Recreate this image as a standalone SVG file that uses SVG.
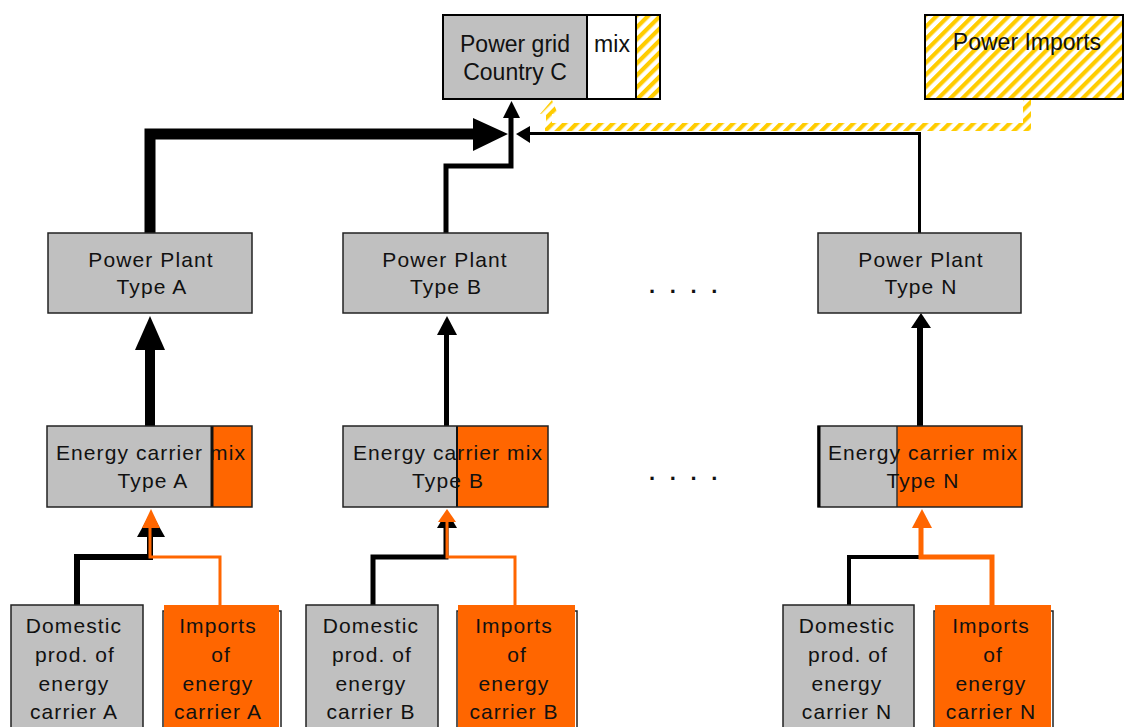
<svg xmlns="http://www.w3.org/2000/svg" width="1124" height="727" viewBox="0 0 1124 727">
<defs>
<pattern id="hatch" patternUnits="userSpaceOnUse" width="8.5" height="8.5" patternTransform="rotate(45)">
<rect width="8.5" height="8.5" fill="#FFFFFF"/>
<rect width="4.2" height="8.5" fill="#FFCC00"/>
</pattern>
<style>
.t{font-family:"Liberation Sans",Arial,sans-serif;font-size:21px;letter-spacing:1.1px;fill:#111;text-anchor:middle}
.tb{font-family:"Liberation Sans",Arial,sans-serif;font-size:23px;fill:#111;text-anchor:middle}
.dots{font-family:"Liberation Sans",Arial,sans-serif;font-size:22px;font-weight:bold;letter-spacing:14.6px;fill:#111}
.gray{fill:#C0C0C0;stroke:#222;stroke-width:1.5}
.org{fill:#FF6600}
.bl{fill:none;stroke:#000}
.ol{fill:none;stroke:#FF6600}
</style>
</defs>
<rect width="1124" height="727" fill="#FFFFFF"/>

<g id="connectors">
<rect x="545" y="123" width="486" height="8" fill="url(#hatch)"/>
<rect x="1023" y="99" width="8" height="32" fill="url(#hatch)"/>
<polygon points="546,123 546,114 540,114 552,100 558,114 552,114 552,123" fill="url(#hatch)"/>
<path class="bl" d="M150,233 V134 H475" stroke-width="11"/>
<polygon points="473,118 473,151 508,134" fill="#000"/>
<path class="bl" d="M446,233 V166 H511 V116" stroke-width="5"/>
<polygon points="503,118 520,118 511.5,101" fill="#000"/>
<path class="bl" d="M919.5,233 V133.5 H529" stroke-width="3"/>
<polygon points="530,126 530,143 516,134" fill="#000"/>
<path class="bl" d="M150,426 V345" stroke-width="10"/>
<polygon points="135,350 165,350 150,316" fill="#000"/>
<path class="bl" d="M446.5,426 V332" stroke-width="5"/>
<polygon points="437,335 457,335 447,316" fill="#000"/>
<path class="bl" d="M920,426 V325" stroke-width="6"/>
<polygon points="911,328 931,328 921,313" fill="#000"/>
<path class="bl" d="M77,605 V557 H150 V535" stroke-width="6"/>
<polygon points="137,537 165,537 151,512" fill="#000"/>
<path class="ol" d="M220,606 V557 H150 V526" stroke-width="3"/>
<polygon points="142,528 160,528 151,509" class="org"/>
<path class="bl" d="M373,605 V557 H446 V526" stroke-width="5"/>
<polygon points="437,528 457,528 447,511" fill="#000"/>
<path class="ol" d="M515,606 V557 H447 V520" stroke-width="3"/>
<polygon points="438,522 456,522 447,509" class="org"/>
<path class="bl" d="M849,605 V557 H920" stroke-width="4"/>
<path class="ol" d="M992,606 V557 H921 V526" stroke-width="5"/>
<polygon points="912,528 932,528 922,509" class="org"/>
</g>

<g id="power-grid">
<rect x="443" y="15" width="144" height="84" fill="#C0C0C0"/>
<rect x="587" y="15" width="49" height="84" fill="#FFFFFF"/>
<rect x="636" y="15" width="24" height="84" fill="url(#hatch)"/>
<path d="M587,15 V99 M636,15 V99" stroke="#000" stroke-width="2"/>
<rect x="443" y="15" width="217" height="84" fill="none" stroke="#000" stroke-width="2"/>
<text class="tb" x="515" y="52">Power grid</text>
<text class="tb" x="515" y="80">Country C</text>
<text class="tb" x="612" y="52">mix</text>
</g>

<g id="power-imports">
<rect x="925" y="15" width="198" height="84" fill="url(#hatch)" stroke="#000" stroke-width="2"/>
<text class="tb" x="1027" y="50">Power Imports</text>
</g>

<g id="pp-a">
<rect class="gray" x="48" y="233" width="204" height="80"/>
<text class="t" x="151" y="267">Power Plant</text>
<text class="t" x="152" y="294">Type A</text>
</g>
<g id="pp-b">
<rect class="gray" x="343" y="233" width="205" height="80"/>
<text class="t" x="445" y="267">Power Plant</text>
<text class="t" x="446" y="294">Type B</text>
</g>
<g id="pp-n">
<rect class="gray" x="818" y="233" width="203" height="80"/>
<text class="t" x="921" y="267">Power Plant</text>
<text class="t" x="921" y="294">Type N</text>
</g>

<g id="dots">
<text class="dots" x="649" y="293">....</text>
<text class="dots" x="649" y="480">....</text>
</g>

<g id="ec-a">
<rect x="47" y="426" width="165" height="81" fill="#C0C0C0"/>
<rect x="212" y="426" width="40" height="81" class="org"/>
<path d="M212,426 V507" stroke="#111" stroke-width="3"/>
<rect x="47" y="426" width="205" height="81" fill="none" stroke="#222" stroke-width="1.5"/>
<text class="t" x="151" y="460">Energy carrier mix</text>
<text class="t" x="153" y="488">Type A</text>
</g>
<g id="ec-b">
<rect x="343" y="426" width="114" height="81" fill="#C0C0C0"/>
<rect x="457" y="426" width="91" height="81" class="org"/>
<path d="M457,426 V507" stroke="#111" stroke-width="2"/>
<rect x="343" y="426" width="205" height="81" fill="none" stroke="#222" stroke-width="1.5"/>
<text class="t" x="448" y="460">Energy carrier mix</text>
<text class="t" x="448" y="488">Type B</text>
</g>
<g id="ec-n">
<rect x="818" y="426" width="79" height="81" fill="#C0C0C0"/>
<rect x="897" y="426" width="125" height="81" class="org"/>
<path d="M897,426 V507" stroke="#333" stroke-width="1.5"/>
<rect x="818" y="426" width="204" height="81" fill="none" stroke="#222" stroke-width="1.5"/>
<path d="M819,426 V507" stroke="#000" stroke-width="3"/>
<text class="t" x="923" y="460">Energy carrier mix</text>
<text class="t" x="923" y="488">Type N</text>
</g>

<g id="dom-a">
<rect class="gray" x="11" y="605" width="132" height="130"/>
<text class="t" x="74" y="633">Domestic</text>
<text class="t" x="75" y="662">prod. of</text>
<text class="t" x="74" y="691">energy</text>
<text class="t" x="74" y="719">carrier A</text>
</g>
<g id="imp-a">
<rect x="163" y="611" width="118" height="130" fill="none" stroke="#222" stroke-width="1.5"/>
<rect x="164" y="605" width="115" height="130" class="org"/>
<text class="t" x="218" y="633">Imports</text>
<text class="t" x="221" y="662">of</text>
<text class="t" x="218" y="691">energy</text>
<text class="t" x="218" y="719">carrier A</text>
</g>
<g id="dom-b">
<rect class="gray" x="306" y="605" width="132" height="130"/>
<text class="t" x="371" y="633">Domestic</text>
<text class="t" x="372" y="662">prod. of</text>
<text class="t" x="371" y="691">energy</text>
<text class="t" x="371" y="719">carrier B</text>
</g>
<g id="imp-b">
<rect x="457" y="611" width="120" height="130" fill="none" stroke="#222" stroke-width="1.5"/>
<rect x="458" y="605" width="117" height="130" class="org"/>
<text class="t" x="514" y="633">Imports</text>
<text class="t" x="517" y="662">of</text>
<text class="t" x="514" y="691">energy</text>
<text class="t" x="514" y="719">carrier B</text>
</g>
<g id="dom-n">
<rect class="gray" x="783" y="605" width="131" height="130"/>
<text class="t" x="847" y="633">Domestic</text>
<text class="t" x="848" y="662">prod. of</text>
<text class="t" x="847" y="691">energy</text>
<text class="t" x="847" y="719">carrier N</text>
</g>
<g id="imp-n">
<rect x="934" y="611" width="119" height="130" fill="none" stroke="#222" stroke-width="1.5"/>
<rect x="935" y="605" width="116" height="130" class="org"/>
<text class="t" x="991" y="633">Imports</text>
<text class="t" x="993" y="662">of</text>
<text class="t" x="991" y="691">energy</text>
<text class="t" x="991" y="719">carrier N</text>
</g>
</svg>
